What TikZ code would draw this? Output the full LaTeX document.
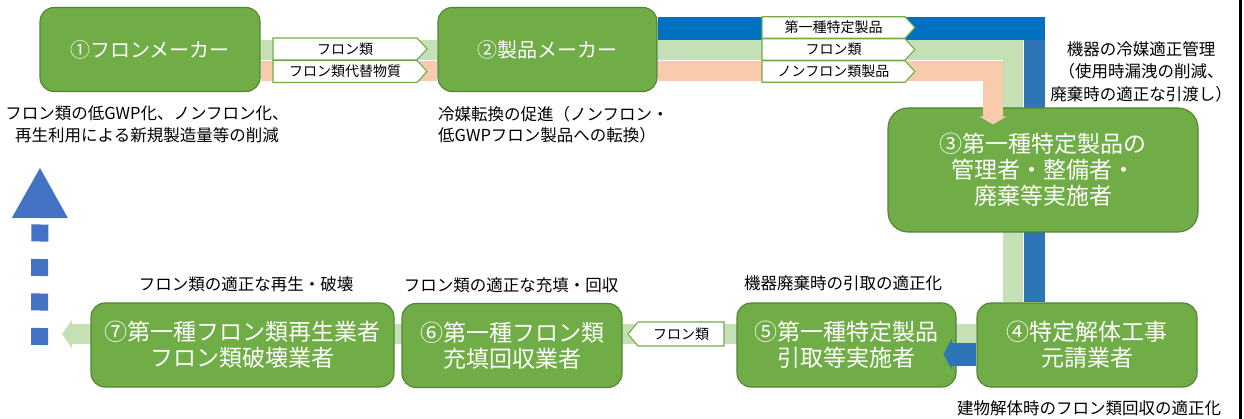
\documentclass[tikz,border=0pt]{standalone}
\usepackage{fontspec}
\setmainfont{Noto Sans CJK JP}
\usetikzlibrary{calc,shapes.symbols,arrows.meta}
\definecolor{boxgreen}{HTML}{70AD47}
\definecolor{boxedge}{HTML}{548235}
\definecolor{lgreen}{HTML}{C5E0B4}
\definecolor{peach}{HTML}{F8CBAD}
\definecolor{blueA}{HTML}{0070C0}
\definecolor{blueB}{HTML}{2E75B6}
\definecolor{blueC}{HTML}{4472C4}
\pgfdeclarelayer{bands}
\pgfdeclarelayer{boxes}
\pgfdeclarelayer{fronts}
\pgfsetlayers{bands,boxes,fronts,main}
\newcommand\fsA{\fontsize{20}{24}\selectfont}
\newcommand\fsB{\fontsize{23}{26}\selectfont}
\newcommand\fsL{\fontsize{16.5}{21.5}\selectfont}
\newcommand\fsT{\fontsize{14}{16}\selectfont}
\begin{document}
\begin{tikzpicture}[x=1pt,y=-1pt,line join=miter,
  box/.style={rectangle,rounded corners=14pt,fill=boxgreen,draw=boxedge,line width=1.1pt,
    text=white,align=center,inner sep=0pt,minimum height=84pt},
  bigbox/.style={box,rounded corners=20pt},
  gband/.style={draw=lgreen,line width=20pt},
  pband/.style={draw=peach,line width=20pt},
  tagbox/.style={shape=signal,signal to=east,draw=boxgreen,fill=white,line width=1.1pt,
    inner sep=0pt,minimum height=22pt,align=center,font=\fsT,text=black,signal pointer angle=95},
  lbl/.style={font=\fsL,text=black,inner sep=0pt,align=center},
]
\useasboundingbox (0,0) rectangle (1244,419);

% boxes
\begin{pgfonlayer}{boxes}
\node[box,minimum width=220pt,font=\fsA] (n1) at (150,49.5) {①フロンメーカー};
\node[box,minimum width=219pt,font=\fsA] (n2) at (547.5,49.5) {②製品メーカー};
\node[bigbox,minimum width=310pt,minimum height=124pt,font=\fsB] (n3) at (1043,170) {③第一種特定製品の\\管理者・整備者・\\廃棄等実施者};
\node[box,minimum width=220pt,font=\fsB] (n4) at (1087,345) {④特定解体工事\\元請業者};
\node[box,minimum width=219pt,font=\fsB] (n5) at (846.5,345) {⑤第一種特定製品\\引取等実施者};
\node[box,minimum width=220pt,font=\fsB] (n6) at (512,345.5) {⑥第一種フロン類\\充填回収業者};
\node[box,minimum width=303pt,font=\fsB] (n7) at (242.5,345) {⑦第一種フロン類再生業者\\フロン類破壊業者};
\end{pgfonlayer}

% corner coordinates of the bands
\coordinate (gcorner) at (1013,50);
\coordinate (pcorner) at (993,71);
\coordinate (bcorner) at (1034.5,28.5);
\coordinate (gtip) at (62,334);
\coordinate (dstart) at (39.5,345);
\coordinate (dend) at (40,167);

\begin{pgfonlayer}{bands}
\draw[gband] ($(n1.east)+(0,0.5)$) -- ($(n2.west)+(0,0.5)$);
\draw[pband] ($(n1.east)+(0,21.5)$) -- ($(n2.west)+(0,21.5)$);
\draw[gband] (n2.east |- gcorner) -- (gcorner) -- (gcorner |- n4.north);
\draw[blueA,line width=23pt] (n2.east |- bcorner) -- ($(bcorner)+(10.5,0)$);
\draw[blueB,line width=21pt] ($(bcorner)+(0,11.5)$) -- (bcorner |- n4.north);
\draw[gband,-{Triangle[width=28pt,length=10pt]}] (n4.west |- gtip) -- (gtip);
\end{pgfonlayer}

\begin{pgfonlayer}{fronts}
\draw[pband,-{Triangle[width=27pt,length=8pt]}] (n2.east |- pcorner) -- (pcorner) -- ($(pcorner |- n3.north)+(0,17)$);
\draw[blueB,line width=23pt,-{Triangle[width=30pt,length=8pt]}] ($(n4.west)+(0,9)$) -- ($(n5.east)+(-13,9)$);
\end{pgfonlayer}

% dashed blue arrow
\draw[blueC,line width=17pt,dash pattern=on 17pt off 17.5pt,-{Triangle[width=52pt,length=51pt]}] (dstart) -- (dend);

% tags
\node[tagbox,text width=144pt] (t1) at (345,49) {フロン類};
\node[tagbox,text width=144pt] (t2) at (345,71.5) {フロン類代替物質};
\node[tagbox,text width=143pt,minimum height=21.5pt] (t3) at (833.5,27.5) {第一種特定製品};
\node[tagbox,text width=143pt,minimum height=21.5pt] (t4) at (833.5,49.5) {フロン類};
\node[tagbox,text width=143pt,minimum height=21.5pt] (t5) at (833.5,71.5) {ノンフロン類製品};
\node[tagbox,signal to=west,text width=86pt,minimum height=24pt,signal pointer angle=100] (t6) at (681,334) {フロン類};

% labels
\node[lbl] (L1) at (147,124.5) {フロン類の低GWP化、ノンフロン化、\\再生利用による新規製造量等の削減};
\node[lbl,align=left,anchor=west] (L2) at (438,124.5) {冷媒転換の促進（ノンフロン・\\低GWPフロン製品への転換）};
\node[lbl,font=\fontsize{16.5}{22.5}\selectfont] (L3) at (1141,71.5) {機器の冷媒適正管理\\（使用時漏洩の削減、\\廃棄時の適正な引渡し）};
\node[lbl] (L7) at (246,284) {フロン類の適正な再生・破壊};
\node[lbl] (L6) at (511,285) {フロン類の適正な充填・回収};
\node[lbl] (L5) at (843,283) {機器廃棄時の引取の適正化};
\node[lbl] (L4) at (1089,408) {建物解体時のフロン類回収の適正化};

% right border line
\draw[line width=3pt] (1240,0) -- (1240,419);
\end{tikzpicture}
\end{document}
